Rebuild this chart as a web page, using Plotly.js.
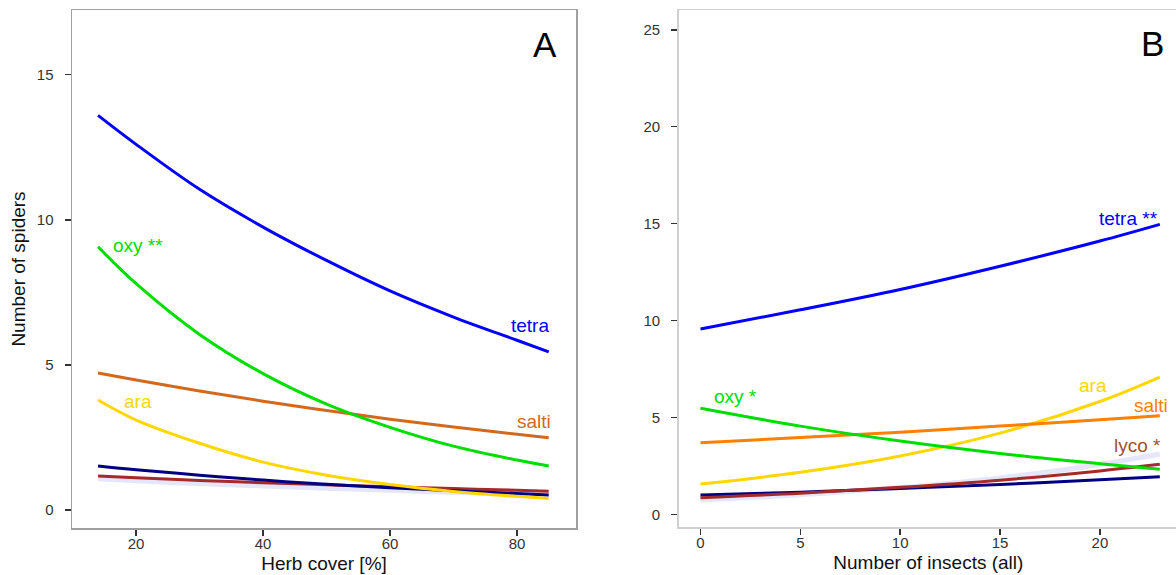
<!DOCTYPE html>
<html>
<head>
<meta charset="utf-8">
<script src="https://cdn.plot.ly/plotly-3.0.1.min.js"></script>
<style>
html,body{margin:0;padding:0;overflow:hidden;background:#fff;}
#chart{width:1180px;height:575px;}
</style>
</head>
<body>
<div id="chart"></div>
<script>
// Panel A: herb cover [%]
const herbCover = [14, 20, 30, 40, 50, 60, 70, 80, 85];
const A_tetra = [13.6, 12.6, 11.05, 9.75, 8.6, 7.55, 6.65, 5.85, 5.45];
const A_oxy   = [9.07, 7.8, 6.05, 4.7, 3.65, 2.85, 2.2, 1.72, 1.52];
const A_salti = [4.72, 4.48, 4.1, 3.75, 3.43, 3.13, 2.86, 2.61, 2.49];
const A_ara   = [3.79, 3.1, 2.3, 1.65, 1.2, 0.88, 0.64, 0.47, 0.4];
const A_navy  = [1.52, 1.39, 1.2, 1.03, 0.89, 0.77, 0.66, 0.57, 0.52];
const A_lyco  = [1.17, 1.11, 1.02, 0.94, 0.87, 0.8, 0.74, 0.68, 0.65];
const A_lav   = [1.08, 1.01, 0.91, 0.83, 0.75, 0.68, 0.61, 0.55, 0.52];

// Panel B: number of insects (all)
const insects = [0, 5, 10, 15, 20, 23];
const B_tetra = [9.56, 10.55, 11.6, 12.8, 14.1, 14.96];
const B_oxy   = [5.47, 4.55, 3.78, 3.14, 2.61, 2.32];
const B_salti = [3.69, 3.96, 4.24, 4.55, 4.88, 5.09];
const B_ara   = [1.56, 2.17, 3.01, 4.19, 5.82, 7.08];
const B_navy  = [0.99, 1.14, 1.33, 1.54, 1.78, 1.94];
const B_lyco  = [0.86, 1.09, 1.39, 1.76, 2.24, 2.58];
const B_lav   = [0.74, 1.01, 1.38, 1.88, 2.57, 3.11];

const ticksA_x = [20, 40, 60, 80];
const ticksA_y = [0, 5, 10, 15];
const ticksB_x = [0, 5, 10, 15, 20];
const ticksB_y = [0, 5, 10, 15, 20, 25];

const C = {
  tetra: '#0000FF', oxy: '#00DD00', saltiA: '#D2691E', saltiB: '#FF8000',
  ara: '#FFD700', navy: '#000080', lyco: '#A52A2A', lav: '#E6E6FA', lycoLabel: '#A0522D'
};

function tr(x, y, color, xa, ya, w) {
  return {x: x, y: y, type: 'scatter', mode: 'lines', xaxis: xa, yaxis: ya,
    line: {color: color, width: w || 3, shape: 'spline'}, hoverinfo: 'skip', showlegend: false};
}

const data = [
  tr(herbCover, A_lav, C.lav, 'x', 'y', 5),
  tr(herbCover, A_lyco, C.lyco, 'x', 'y'),
  tr(herbCover, A_navy, C.navy, 'x', 'y'),
  tr(herbCover, A_ara, C.ara, 'x', 'y'),
  tr(herbCover, A_salti, C.saltiA, 'x', 'y'),
  tr(herbCover, A_oxy, C.oxy, 'x', 'y'),
  tr(herbCover, A_tetra, C.tetra, 'x', 'y'),
  tr(insects, B_lav, C.lav, 'x2', 'y2', 5),
  tr(insects, B_navy, C.navy, 'x2', 'y2'),
  tr(insects, B_lyco, C.lyco, 'x2', 'y2'),
  tr(insects, B_ara, C.ara, 'x2', 'y2'),
  tr(insects, B_salti, C.saltiB, 'x2', 'y2'),
  tr(insects, B_oxy, C.oxy, 'x2', 'y2'),
  tr(insects, B_tetra, C.tetra, 'x2', 'y2')
];

const FONT = 'Arial, "Liberation Sans", sans-serif';
const tickFont = {family: FONT, size: 15, color: '#333'};
const titleFont = {family: FONT, size: 19, color: '#111'};

function ax(extra) {
  return Object.assign({
    showline: true, mirror: true, linewidth: 1.5, showgrid: false, zeroline: false,
    ticks: 'outside', ticklen: 6, tickwidth: 1.5, tickcolor: '#333',
    tickfont: tickFont, tickmode: 'array', fixedrange: true
  }, extra);
}

function lab(text, x, y, color, xanchor, xa, ya, size) {
  return {text: text, x: x, y: y, xref: xa, yref: ya, showarrow: false,
    xanchor: xanchor, yanchor: 'middle', font: {family: FONT, size: size || 19, color: color}};
}

const layout = {
  width: 1180, height: 575,
  margin: {l: 0, r: 0, t: 0, b: 0},
  paper_bgcolor: '#fff', plot_bgcolor: '#fff',
  showlegend: false,
  xaxis: ax({domain: [72/1180, 576/1180], range: [9.9, 89.3], tickvals: ticksA_x,
    linecolor: '#a0a0a0', anchor: 'y', ticklabelstandoff: -5,
    title: {text: 'Herb cover [%]', font: titleFont, standoff: 6}}),
  yaxis: ax({domain: [47/575, 565/575], range: [-0.62, 17.23], tickvals: ticksA_y,
    linecolor: '#a0a0a0', anchor: 'x', ticklabelstandoff: 8,
    title: {text: 'Number of spiders', font: titleFont, standoff: 6}}),
  xaxis2: ax({domain: [678.7/1180, 1178/1180], range: [-1.09, 23.91], tickvals: ticksB_x,
    linecolor: '#d0d0d0', anchor: 'y2', ticklabelstandoff: -5,
    title: {text: 'Number of insects (all)', font: titleFont, standoff: 6}}),
  yaxis2: ax({domain: [48/575, 565/575], range: [-0.655, 26.02], tickvals: ticksB_y,
    linecolor: '#d0d0d0', anchor: 'x2', ticklabelstandoff: 8}),
  annotations: [
    {text: 'A', x: 545/1180, y: 1 - 44/575, xref: 'paper', yref: 'paper',
      showarrow: false, xanchor: 'center', yanchor: 'middle', font: {family: FONT, size: 35, color: '#000'}},
    {text: 'B', x: 1152/1180, y: 1 - 43/575, xref: 'paper', yref: 'paper',
      showarrow: false, xanchor: 'center', yanchor: 'middle', font: {family: FONT, size: 35, color: '#000'}},
    lab('oxy **', 16.0, 9.1, C.oxy, 'left', 'x', 'y'),
    lab('tetra', 85.3, 6.37, C.tetra, 'right', 'x', 'y'),
    lab('salti', 85.6, 3.04, C.saltiA, 'right', 'x', 'y'),
    lab('ara', 17.8, 3.73, C.ara, 'left', 'x', 'y'),
    lab('tetra **', 23.0, 15.27, C.tetra, 'right', 'x2', 'y2'),
    lab('oxy *', 0.6, 6.1, C.oxy, 'left', 'x2', 'y2'),
    lab('ara', 20.45, 6.67, C.ara, 'right', 'x2', 'y2'),
    lab('salti', 23.5, 5.59, C.saltiB, 'right', 'x2', 'y2'),
    lab('lyco *', 20.6, 3.57, C.lycoLabel, 'left', 'x2', 'y2')
  ]
};

Plotly.newPlot('chart', data, layout, {displayModeBar: false, staticPlot: true});
</script>
</body>
</html>
